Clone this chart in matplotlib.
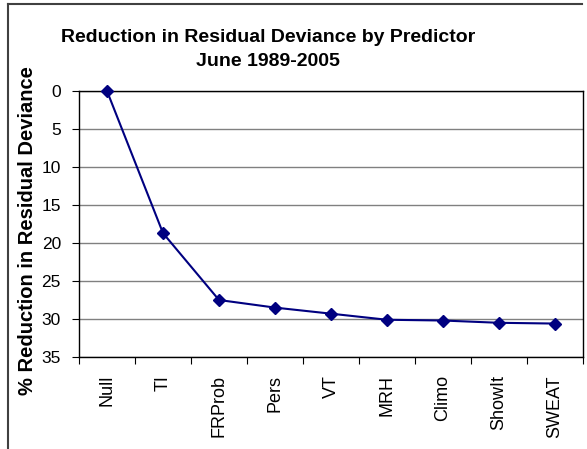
import matplotlib
matplotlib.use("Agg")
import matplotlib.pyplot as plt
from matplotlib.lines import Line2D

categories = ["Null", "TI", "FRProb", "Pers", "VT", "MRH", "Climo", "ShowIt", "SWEAT"]
reduction = [0.0, 18.7, 27.5, 28.5, 29.3, 30.1, 30.2, 30.5, 30.6]
yticks = [0, 5, 10, 15, 20, 25, 30, 35]

plt.rcParams['font.family'] = ['Liberation Sans', 'DejaVu Sans']

W, H = 587, 449
fig = plt.figure(figsize=(W / 100, H / 100), dpi=100)
ax = fig.add_axes([79 / W, 1 - 357 / H, (583 - 79) / W, (357 - 91) / H])

x = list(range(len(categories)))
ax.plot(x, reduction, color="#000080", marker="D", markersize=6, linewidth=1.5, zorder=3, clip_on=False)

ax.set_ylim(35, 0)
ax.set_xlim(-0.5, len(categories) - 0.5)
ax.set_yticks(yticks)
ax.set_yticklabels([str(v) for v in yticks], fontsize=12.5)
ax.set_xticks(x)
ax.set_xticklabels(categories, rotation=90, fontsize=13)
ax.tick_params(axis='x', length=0, pad=13)
ax.set_xticks([i + 0.5 for i in range(-1, len(categories))], minor=True)
ax.tick_params(axis='x', which='minor', length=5, width=0.8, direction='out')
ax.tick_params(axis='y', length=5, width=0.8, direction='out', pad=8)
ax.grid(axis='y', color='#808080', linewidth=1.0)
ax.set_axisbelow(True)
for s in ax.spines.values():
    s.set_linewidth(1.0)
    s.set_color('black')

fig.text(28 / W, 1 - 231 / H, "% Reduction in Residual Deviance", rotation=90, ha='center', va='center',
         fontsize=14.5, fontweight='bold')

fig.text(268 / W, 1 - 38 / H, "Reduction in Residual Deviance by Predictor", ha='center', va='center',
         fontsize=14, fontweight='bold')
fig.text(268 / W, 1 - 61 / H, "June 1989-2005", ha='center', va='center',
         fontsize=14, fontweight='bold')

# outer chart frame
fig.add_artist(Line2D([8 / W, 8 / W], [0, 1 - 4 / H], color='#404040', linewidth=1.5, transform=fig.transFigure))
fig.add_artist(Line2D([8 / W, 582 / W], [1 - 4 / H, 1 - 4 / H], color='#404040', linewidth=1.5, transform=fig.transFigure))

fig.savefig("out.png", dpi=100)
